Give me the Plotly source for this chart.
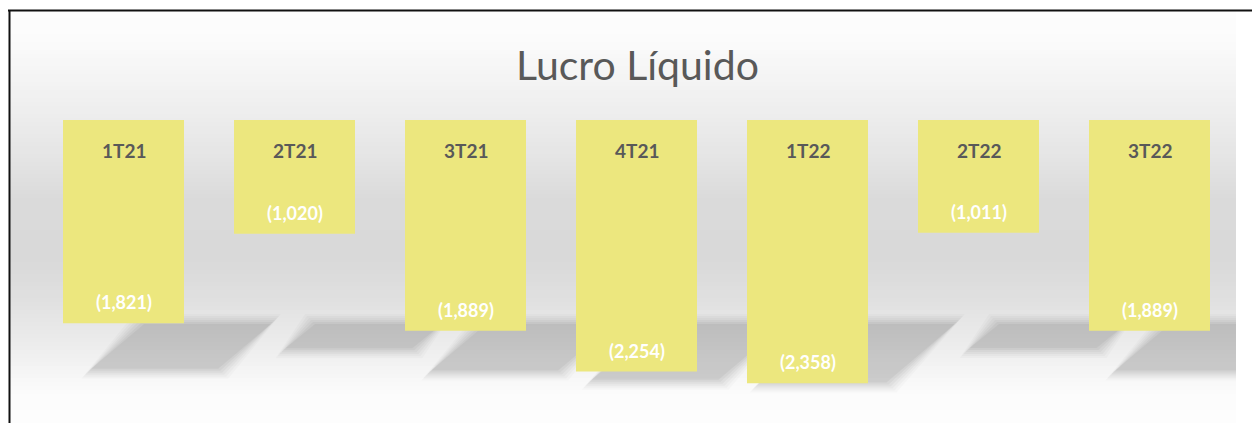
import plotly.graph_objects as go

categories = ["1T21", "2T21", "3T21", "4T21", "1T22", "2T22", "3T22"]
values = [-1821, -1020, -1889, -2254, -2358, -1011, -1889]
value_labels = ["(1,821)", "(1,020)", "(1,889)", "(2,254)", "(2,358)", "(1,011)", "(1,889)"]

W, H = 1252, 423
L, R, T, B = 38, 17, 120, 24
PW, PH = W - L - R, H - T - B
YMIN = -2500

def px(x):
    return (x - L) / PW

def py(y):
    return (H - B - y) / PH

shapes = []

# background gradient (decoration)
stops = [(10, 253), (40, 251), (100, 240), (150, 230), (200, 218), (260, 217),
         (300, 224), (320, 230), (350, 238), (375, 246), (395, 252), (423, 253)]
def shade(y):
    for (y0, c0), (y1, c1) in zip(stops[:-1], stops[1:]):
        if y0 <= y <= y1:
            return c0 + (c1 - c0) * (y - y0) / (y1 - y0)
    return 253
step = 4
y = 10
while y < H:
    c = int(round(shade(y + step / 2)))
    shapes.append(dict(type="rect", xref="paper", yref="paper", layer="below",
                       x0=px(10), x1=px(1236), y0=py(y), y1=py(min(y + step, H) + 0.5),
                       line=dict(width=0), fillcolor=f"rgb({c},{c},{c})"))
    y += step

# floor shadows (decoration)
slope = 1.13
for i, v in enumerate(values):
    length = abs(v) * PH / (-YMIN)
    h = 0.23 * length
    xl = L + 171 * i + 25 + 80
    xr = L + 171 * i + 25 + 121 + 88
    top = 323
    for k, a in [(9, 0.018), (7, 0.022), (5, 0.026), (3, 0.032), (1, 0.036), (-1, 0.042)]:
        x0t, x1t = xl - k, xr + k
        dx = slope * h
        path = (f"M {px(x0t)} {py(top - k)} L {px(x1t)} {py(top - k)} "
                f"L {px(x1t - dx)} {py(top + h + k)} L {px(x0t - dx)} {py(top + h + k)} Z")
        shapes.append(dict(type="path", xref="paper", yref="paper", layer="below",
                           path=path, line=dict(width=0), fillcolor=f"rgba(0,0,0,{a})"))

# right margin outside the slide area
shapes.append(dict(type="rect", xref="paper", yref="paper", layer="below",
                   x0=px(1236), x1=px(1260), y0=py(12), y1=py(430),
                   line=dict(width=0), fillcolor="#FFFFFF"))

# frame
shapes.append(dict(type="line", xref="paper", yref="paper", x0=px(8), x1=px(1252),
                   y0=py(10.5), y1=py(10.5), line=dict(color="#111111", width=2)))
shapes.append(dict(type="line", xref="paper", yref="paper", x0=px(9.5), x1=px(9.5),
                   y0=py(10), y1=py(423), line=dict(color="#111111", width=2)))

fig = go.Figure(go.Bar(x=categories, y=values, marker=dict(color="#ECE77E", line=dict(width=0)),
                       hoverinfo="skip"))

annotations = []
for c, v, lab in zip(categories, values, value_labels):
    annotations.append(dict(x=c, y=0, yshift=-30, text=f"<b>{c}</b>", showarrow=False,
                            font=dict(family="Lato", size=19, color="#595959"), yanchor="middle"))
    annotations.append(dict(x=c, y=v, yshift=21, text=f"<b>{lab}</b>", showarrow=False,
                            font=dict(family="Lato", size=18, color="#FFFFFF"), yanchor="middle"))
annotations.append(dict(xref="paper", yref="paper", x=px(637), y=py(64), text="Lucro Líquido",
                        showarrow=False, font=dict(family="Lato", size=41, color="#595959"),
                        xanchor="center", yanchor="middle"))

fig.update_layout(
    width=W, height=H, margin=dict(l=L, r=R, t=T, b=B),
    paper_bgcolor="#FFFFFF", plot_bgcolor="rgba(0,0,0,0)",
    bargap=1 - 121 / 171, showlegend=False,
    xaxis=dict(visible=False, range=[-0.5, 6.5]),
    yaxis=dict(visible=False, range=[YMIN, 0]),
    shapes=shapes, annotations=annotations,
)
fig.write_html("out.html", config={"displayModeBar": False},
               post_script="document.body.style.margin='0px';")
